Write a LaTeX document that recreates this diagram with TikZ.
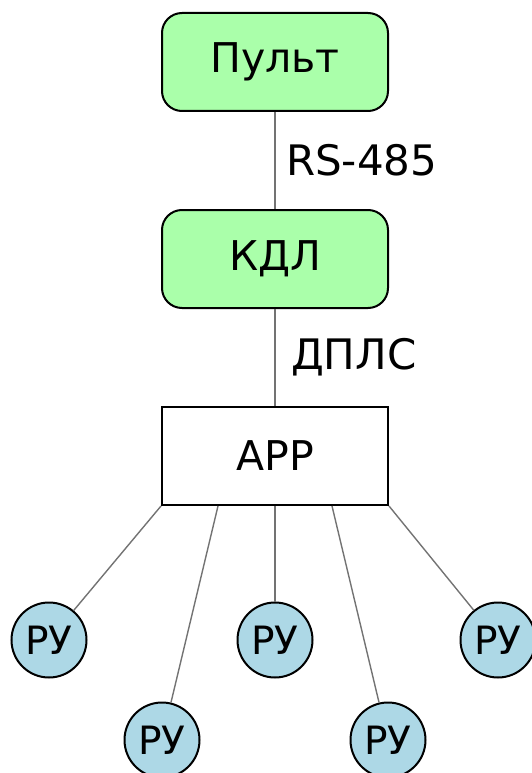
\documentclass[tikz,border=0pt]{standalone}
\usepackage{fontspec}
\setmainfont{DejaVu Sans}
\usetikzlibrary{calc}
\definecolor{blok}{HTML}{AAFFAA}
\definecolor{rucol}{HTML}{ADD8E6}
\tikzset{
  box/.style={draw, line width=2pt, minimum width=226pt, minimum height=98pt, font=\fontsize{41}{48}\selectfont},
  pribor/.style={box, fill=blok, rounded corners=20pt},
  ustr/.style={circle, draw, line width=2pt, fill=rucol, minimum size=75pt, inner sep=0pt, font=\fontsize{39}{46}\selectfont},
  link/.style={draw=black!55, line width=1.4pt},
  metka/.style={right, font=\fontsize{42}{48}\selectfont}
}
\begin{document}
\begin{tikzpicture}[x=1pt,y=-1pt]
\useasboundingbox (0,0) rectangle (531,773);

\node[pribor] (pult) at (275,62) {Пульт};
\node[pribor] (kdl) at (275,259) {КДЛ};
\node[box] (arr) at (275,456) {АРР};

\draw[link] (pult) -- node[metka, xshift=7pt]{RS-485} (kdl);
\draw[link] (kdl) -- node[metka, xshift=12pt]{ДПЛС} (arr);

\foreach \n/\x/\y/\t in {1/49/640/0, 2/162/740/0.25, 3/275/640/0.5, 4/388/740/0.75, 5/498/640/1}
{
    \node[ustr] (ru\n) at (\x,\y) {РУ};
    \draw[link] ($(arr.south west)!\t!(arr.south east)$) -- (ru\n);
}
\end{tikzpicture}
\end{document}
